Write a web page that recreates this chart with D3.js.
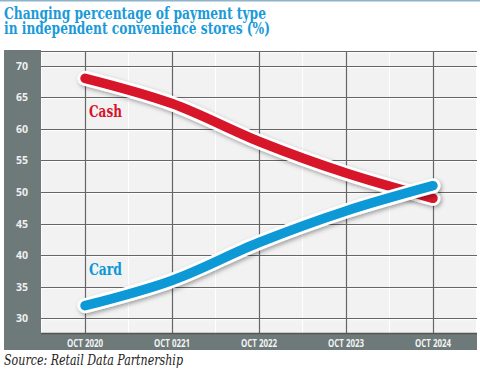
<!DOCTYPE html>
<html>
<head>
<meta charset="utf-8">
<script src="https://cdn.jsdelivr.net/npm/d3@7"></script>
<style>
  html,body{margin:0;padding:0;background:#fff;}
  svg{display:block;}
</style>
</head>
<body>
<div id="chart"></div>
<script>
// data
const periods = ["OCT 2020","OCT 0221","OCT 2022","OCT 2023","OCT 2024"];
const cash = [68, 64, 58, 53, 49];
const card = [32, 36, 42, 47, 51];
const yTicks = [30, 35, 40, 45, 50, 55, 60, 65, 70];
const titleLines = ["Changing percentage of payment type", "in independent convenience stores (%)"];
const sourceText = "Source: Retail Data Partnership";

const W = 480, H = 372;
const C = { cash:"#d8132b", card:"#0a98d6", panel:"#6e7979", grid:"#666", bg:"#f2f2f2", title:"#1a9ad8" };
const P = { l:41, r:477, t:51, b:334 }; // plot box

const svg = d3.select("#chart").append("svg").attr("width",W).attr("height",H);

// top rule
svg.append("rect").attr("x",0).attr("y",0).attr("width",W).attr("height",1.5).attr("fill","#8db4c8");

// title, squeezed to the width it has in the picture
const titleW = [262, 266];
titleLines.forEach((t,i)=>{
  svg.append("text").attr("x",4).attr("y",19+i*14.5)
    .attr("fill",C.title).attr("font-family","'DejaVu Serif',serif")
    .attr("font-weight","700").attr("font-size",17.5)
    .attr("textLength",titleW[i]).attr("lengthAdjust","spacingAndGlyphs").text(t);
});

// panels
svg.append("rect").attr("x",4).attr("y",50).attr("width",P.l-4).attr("height",300).attr("fill",C.panel);
svg.append("rect").attr("x",4).attr("y",P.b).attr("width",P.r-4).attr("height",16).attr("fill",C.panel);
svg.append("rect").attr("x",P.l).attr("y",P.t).attr("width",P.r-P.l).attr("height",P.b-P.t).attr("fill",C.bg);

const x = d3.scalePoint().domain(periods).range([85,433]);
const y = d3.scaleLinear().domain([30,70]).range([318.3,65.7]);

const g = svg.append("g");

// faint midpoint lines
const step = x.step();
periods.forEach(p=>{
  [-step/2, step/2].forEach(o=>{
    const xx = x(p)+o;
    if (xx>P.l && xx<P.r)
      g.append("line").attr("x1",xx).attr("x2",xx).attr("y1",P.t).attr("y2",P.b)
        .attr("stroke","#fff").attr("stroke-width",1);
  });
});

// horizontal grid
yTicks.concat([72.3]).forEach(v=>{
  const yy = Math.round(y(v))+0.5;
  g.append("line").attr("x1",P.l).attr("x2",P.r).attr("y1",yy+1.2).attr("y2",yy+1.2)
    .attr("stroke","#fff").attr("stroke-width",1);
  g.append("line").attr("x1",P.l).attr("x2",P.r).attr("y1",yy).attr("y2",yy)
    .attr("stroke",C.grid).attr("stroke-width",1.2);
});
// vertical grid
periods.forEach(p=>{
  const xx = Math.round(x(p))+0.5;
  g.append("line").attr("x1",xx).attr("x2",xx).attr("y1",P.t).attr("y2",P.b)
    .attr("stroke",C.grid).attr("stroke-width",1.2);
});
g.append("line").attr("x1",P.l).attr("x2",P.r).attr("y1",P.b-0.5).attr("y2",P.b-0.5)
  .attr("stroke","#555").attr("stroke-width",1.5);

// y tick labels
svg.selectAll(".yt").data(yTicks).join("text").attr("class","yt")
  .attr("x",22).attr("y",d=>y(d)+4).attr("text-anchor","middle")
  .attr("fill","#eef0f0").attr("font-family","'Open Sans',sans-serif")
  .attr("font-weight","700").attr("font-size",10.5).text(d=>d);

// x tick labels
svg.selectAll(".xt").data(periods).join("text").attr("class","xt")
  .attr("x",d=>x(d)).attr("y",346.5).attr("text-anchor","middle")
  .attr("fill","#f2f4f4").attr("font-family","'Open Sans',sans-serif")
  .attr("font-weight","700").attr("font-size",10.5)
  .attr("textLength",36).attr("lengthAdjust","spacingAndGlyphs").text(d=>d);

// shadow filter
const defs = svg.append("defs");
const flt = defs.append("filter").attr("id","sh").attr("x","-10%").attr("y","-30%").attr("width","130%").attr("height","180%");
flt.append("feDropShadow").attr("dx",1.5).attr("dy",2).attr("stdDeviation",2).attr("flood-color","#000").attr("flood-opacity",0.35);

const line = d3.line().x((d,i)=>x(periods[i])).y(d=>y(d)).curve(d3.curveCatmullRom.alpha(0.5));

[[cash,C.cash],[card,C.card]].forEach(([vals,col])=>{
  const s = svg.append("g").attr("filter","url(#sh)");
  s.append("path").attr("d",line(vals)).attr("fill","none")
    .attr("stroke","#fff").attr("stroke-width",15).attr("stroke-linecap","round").attr("stroke-linejoin","round");
  s.append("path").attr("d",line(vals)).attr("fill","none")
    .attr("stroke",col).attr("stroke-width",9.5).attr("stroke-linecap","round").attr("stroke-linejoin","round");
});

// series labels
[["Cash",117,C.cash],["Card",275,C.card]].forEach(([t,yy,col])=>{
  svg.append("text").attr("x",89).attr("y",yy).attr("fill",col)
    .attr("font-family","'DejaVu Serif',serif").attr("font-weight","700")
    .attr("font-size",16.5).attr("textLength",33).attr("lengthAdjust","spacingAndGlyphs").text(t);
});

// source
svg.append("text").attr("x",4).attr("y",365).attr("fill","#222")
  .attr("font-family","'DejaVu Serif',serif").attr("font-style","italic")
  .attr("font-size",15).attr("textLength",179).attr("lengthAdjust","spacingAndGlyphs").text(sourceText);
</script>
</body>
</html>
